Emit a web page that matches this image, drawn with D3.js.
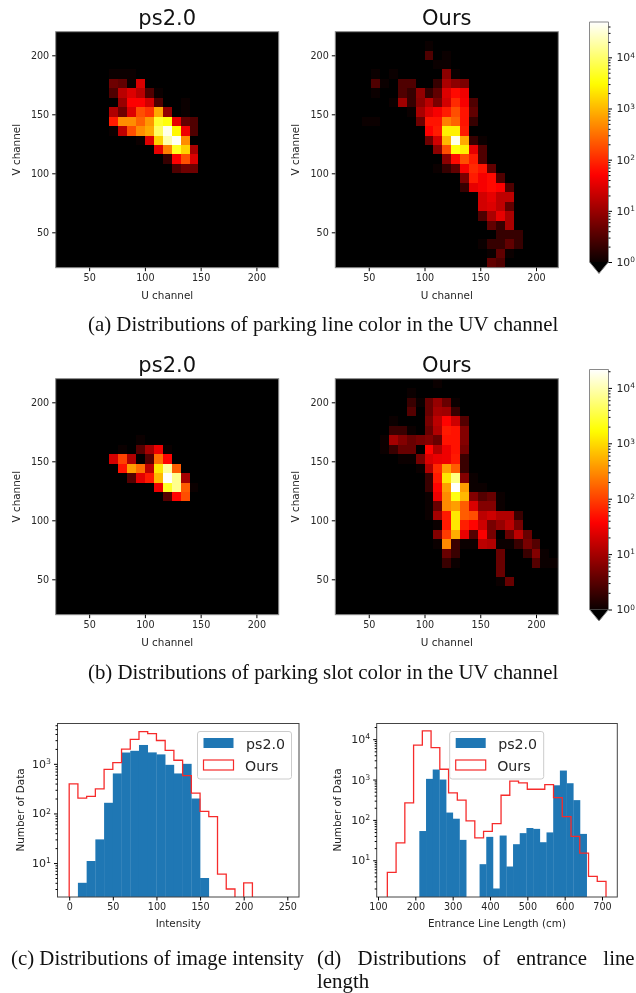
<!DOCTYPE html>
<html lang="en">
<head>
<meta charset="UTF-8">
<title>UV, intensity and entrance line distributions</title>
<style>
  html, body { margin: 0; padding: 0; background: #fff; overflow: hidden; }
  svg { display: block; filter: blur(0.35px); }
  text { font-family: "DejaVu Sans", sans-serif; fill: #262626; }
  .tick text { font-size: 9.6px; }
  .axis-label { font-size: 10.4px; }
  .title { font-size: 21px; fill: #111; }
  .legend-text { font-size: 14.2px; }
  .caption { font-family: "Liberation Serif", serif; font-size: 20.85px; fill: #111; }
</style>
</head>
<body>
<script src="https://d3js.org/d3.v7.min.js"></script>
<script>
// heatmap rows: [lower V edge of the bin, lower U edge of the first cell, counts per 8-wide cell]
var lineBaseRows = [
  [180, 68, [1, 1, 1]],
  [172, 68, [5, 4, 1, 28]],
  [164, 68, [3, 17, 30, 17, 3, 1]],
  [156, 76, [10, 50, 50, 25, 3, 0, 0, 1]],
  [148, 68, [14, 5, 30, 180, 120, 800, 9, 0, 1]],
  [140, 68, [80, 500, 500, 250, 600, 5000, 3500, 35, 4, 3]],
  [132, 68, [1, 18, 180, 500, 800, 9000, 40000, 2800, 40, 3]],
  [124, 92, [1, 30, 1500, 20000, 45000, 500]],
  [116, 108, [35, 400, 4500, 1500, 13]],
  [108, 116, [2, 50, 180, 30]],
  [100, 124, [3, 5, 5]]
];
var lineOursRows = [
  [204, 100, [1]],
  [196, 100, [3, 0, 1]],
  [188, 108, [1, 1]],
  [180, 52, [1, 0, 1, 0, 0, 0, 0, 0, 8, 1]],
  [172, 52, [3, 1, 0, 3, 3, 0, 0, 2, 13, 8, 6]],
  [164, 52, [1, 0, 0, 3, 2, 9, 2, 4, 30, 60, 40]],
  [156, 68, [1, 11, 2, 8, 17, 6, 25, 100, 45, 3]],
  [148, 84, [1, 13, 30, 45, 80, 180, 70, 4]],
  [140, 44, [1, 1, 0, 0, 0, 0, 5, 70, 70, 400, 250, 70, 2]],
  [132, 100, [50, 80, 2500, 2500, 80]],
  [124, 100, [5, 25, 1000, 40000, 800, 2, 1]],
  [116, 108, [8, 180, 3500, 2500, 35, 3]],
  [108, 116, [8, 60, 180, 80, 3]],
  [100, 108, [1, 2, 4, 45, 100, 70, 4]],
  [92, 132, [6, 80, 45, 60, 3]],
  [84, 132, [2, 35, 45, 60, 50, 3]],
  [76, 148, [25, 35, 18, 18]],
  [68, 148, [25, 30, 18, 4]],
  [60, 148, [3, 13, 35, 13]],
  [52, 156, [4, 2, 13]],
  [44, 164, [2, 2, 2]],
  [36, 148, [1, 2, 2, 4, 2]],
  [28, 156, [1, 4, 1]],
  [20, 156, [4, 3]]
];
var slotBaseRows = [
  [164, 92, [1]],
  [156, 76, [1, 0, 3, 10, 30, 1]],
  [148, 68, [20, 100, 12, 0, 3, 200, 40]],
  [140, 76, [50, 400, 200, 14, 1200, 8000, 150]],
  [132, 84, [3, 25, 55, 600, 21000, 7000, 10]],
  [124, 108, [30, 2500, 7000, 150, 1]],
  [116, 116, [3, 40, 120]]
];
var slotOursRows = [
  [212, 108, [1]],
  [204, 84, [1]],
  [196, 84, [2, 1, 4, 8, 4, 1]],
  [188, 84, [3, 0, 4, 10, 9, 2]],
  [180, 68, [1, 0, 0, 0, 5, 14, 40, 18, 3]],
  [172, 68, [2, 2, 1, 0, 4, 12, 55, 50, 6]],
  [164, 60, [1, 10, 6, 4, 5, 6, 4, 50, 50, 6]],
  [156, 60, [1, 2, 4, 4, 0, 40, 12, 30, 50, 5]],
  [148, 76, [1, 1, 5, 22, 28, 30, 55, 2]],
  [140, 92, [1, 12, 70, 400, 150, 2]],
  [132, 100, [2, 55, 1200, 6000, 6, 1]],
  [124, 100, [2, 40, 400, 21000, 400, 1, 1]],
  [116, 100, [1, 30, 300, 2000, 600, 6, 3, 4, 1]],
  [108, 100, [1, 4, 300, 400, 150, 22, 6, 6, 1]],
  [100, 100, [1, 10, 55, 1200, 150, 120, 14, 18, 12, 12, 2]],
  [92, 108, [1, 55, 1200, 60, 40, 18, 5, 8, 14, 5]],
  [84, 108, [6, 90, 500, 28, 3, 35, 5, 0, 4, 14, 4]],
  [76, 108, [1, 300, 2, 1, 1, 14, 12, 1, 1, 2, 5, 3]],
  [68, 116, [4, 2, 0, 0, 0, 0, 4, 0, 0, 2, 6, 1]],
  [60, 116, [2, 1, 0, 0, 0, 0, 4, 0, 0, 0, 3, 1, 1]],
  [52, 164, [4]],
  [44, 164, [1, 4]]
];
var heatTicks = [50, 100, 150, 200];

var lineVmax = 49000, slotVmax = 21500;

// histogram (c): 10-wide bins from 0
var intensityBase = [0, 4, 11, 30, 164, 640, 1690, 1830, 2400, 1700, 1550, 955, 640, 1000, 200, 5];
var intensityOurs = [395, 203, 220, 314, 770, 1060, 1970, 3100, 4470, 4080, 2950, 1860, 1180, 580, 258, 110, 86, 6, 3, 0, 4, 0, 0, 0, 0];
var intensityTicks = [0, 50, 100, 150, 200, 250];

// histogram (d)
var lengthBase = [53, 1040, 1770, 1000, 152, 107, 32, 0, 0, 8, 38, 2, 41, 7, 25, 47, 63, 60, 28, 49, 720, 1670, 810, 309, 45];
var lengthOurs = [5, 27, 265, 7100, 16100, 6200, 1800, 468, 308, 95, 36, 52, 81, 408, 910, 830, 575, 575, 750, 355, 120, 39, 15, 4, 3];
var lengthTicks = [100, 200, 300, 400, 500, 600, 700];

var svg = d3.select("body").append("svg").attr("width", 636).attr("height", 993);
var defs = svg.append("defs");

// matplotlib "hot"
function hot(t) {
  t = Math.max(0, Math.min(1, t));
  var r = Math.min(1, 0.0416 + 0.9584 * t / 0.365);
  var g = Math.max(0, Math.min(1, (t - 0.365) / 0.381));
  var b = Math.max(0, (t - 0.746) / 0.254);
  return d3.rgb(r * 255, g * 255, b * 255).formatHex();
}

function superTicks(axisG, size) {
  axisG.selectAll(".tick text").each(function(d) {
    var k = Math.round(Math.log10(d));
    var t = d3.select(this).text("10");
    t.append("tspan").attr("dy", "-0.5em").style("font-size", size + "px").text(k);
  });
}

function heatPanel(left, top, rows, title, vmax) {
  var w = 223, h = 236;
  var x = d3.scaleLinear().domain([20, 220]).range([left, left + w]);
  var y = d3.scaleLinear().domain([20, 220]).range([top + h, top]);
  var norm = d3.scaleLog().domain([1, vmax]).range([0, 1]);

  svg.append("rect").attr("x", left).attr("y", top).attr("width", w).attr("height", h).attr("fill", "#000");

  var cells = [];
  rows.forEach(function(r) {
    r[2].forEach(function(c, i) {
      if (c > 0) cells.push({v: r[0], u: r[1] + i * 8, c: c});
    });
  });

  svg.append("g").attr("shape-rendering", "crispEdges")
    .selectAll("rect").data(cells).enter().append("rect")
    .attr("x", function(d) { return x(d.u); })
    .attr("y", function(d) { return y(d.v + 8); })
    .attr("width", function(d) { return x(d.u + 8) - x(d.u); })
    .attr("height", function(d) { return y(d.v) - y(d.v + 8); })
    .attr("fill", function(d) { return hot(norm(d.c)); });

  svg.append("rect").attr("x", left).attr("y", top).attr("width", w).attr("height", h)
    .attr("fill", "none").attr("stroke", "#8a8a8a").attr("stroke-width", 1);

  var gx = svg.append("g").attr("transform", "translate(0," + (top + h) + ")")
    .call(d3.axisBottom(x).tickValues(heatTicks).tickSize(3.5).tickPadding(3));
  var gy = svg.append("g").attr("transform", "translate(" + left + ",0)")
    .call(d3.axisLeft(y).tickValues(heatTicks).tickSize(3.5).tickPadding(3));
  gx.select(".domain").remove();
  gy.select(".domain").remove();

  svg.append("text").attr("class", "title").attr("text-anchor", "middle")
    .attr("x", left + w / 2).attr("y", top - 7).text(title);
  svg.append("text").attr("class", "axis-label").attr("text-anchor", "middle")
    .attr("x", left + w / 2).attr("y", top + h + 31).text("U channel");
  svg.append("text").attr("class", "axis-label").attr("text-anchor", "middle")
    .attr("transform", "translate(" + (left - 36) + "," + (top + h / 2) + ") rotate(-90)")
    .text("V channel");
}

function colorbar(id, top, bottom, tipY, vmax) {
  var left = 589.5, w = 19;
  var y = d3.scaleLog().domain([1, vmax]).range([bottom, top]);

  var grad = defs.append("linearGradient").attr("id", id)
    .attr("x1", 0).attr("y1", 1).attr("x2", 0).attr("y2", 0);
  grad.selectAll("stop").data(d3.range(0, 1.001, 0.02)).enter().append("stop")
    .attr("offset", function(d) { return d; })
    .attr("stop-color", function(d) { return hot(d); });

  svg.append("rect").attr("x", left).attr("y", top).attr("width", w).attr("height", bottom - top)
    .attr("fill", "url(#" + id + ")");
  svg.append("path")
    .attr("d", d3.line()([[left, bottom], [left + w / 2, tipY], [left + w, bottom]]))
    .attr("fill", "#000");
  svg.append("path")
    .attr("d", d3.line()([[left, bottom], [left, top], [left + w, top], [left + w, bottom], [left + w / 2, tipY], [left, bottom]]))
    .attr("fill", "none").attr("stroke", "#8a8a8a").attr("stroke-width", 1);

  var minor = y.ticks().filter(function(d) { return !Number.isInteger(Math.log10(d)); });
  var major = y.ticks().filter(function(d) { return Number.isInteger(Math.log10(d)); });
  svg.append("g").attr("transform", "translate(" + (left + w) + ",0)")
    .call(d3.axisRight(y).tickValues(minor).tickSize(2).tickFormat(""))
    .select(".domain").remove();
  var g = svg.append("g").attr("transform", "translate(" + (left + w) + ",0)")
    .call(d3.axisRight(y).tickValues(major).tickSize(3.5).tickPadding(4.5).tickFormat(d3.format("d")));
  g.select(".domain").remove();
  g.selectAll(".tick text").style("font-size", "10.8px");
  superTicks(g, 7.4);
}

function histPanel(opts) {
  var x = d3.scaleLinear().domain(opts.xDomain).range([opts.left, opts.right]);
  var y = d3.scaleLog().domain(opts.yDomain).range([897, 723.5]);
  var clipId = opts.id + "-clip";

  defs.append("clipPath").attr("id", clipId).append("rect")
    .attr("x", opts.left).attr("y", 723.5)
    .attr("width", opts.right - opts.left).attr("height", 897 - 723.5);

  var plot = svg.append("g").attr("clip-path", "url(#" + clipId + ")");

  var bars = opts.base.map(function(c, i) { return {c: c, i: i}; })
    .filter(function(d) { return d.c > 0; });
  plot.selectAll("rect").data(bars).enter().append("rect")
    .attr("x", function(d) { return x(opts.baseStart + d.i * opts.baseWidth); })
    .attr("y", function(d) { return y(d.c); })
    .attr("width", x(opts.baseWidth) - x(0) + 0.3)
    .attr("height", function(d) { return 897 - y(d.c); })
    .attr("fill", "#1f77b4");

  // red outline of the second histogram, zero bins fall below the axis and get clipped
  var pts = [[opts.oursStart, 0.5]];
  opts.ours.forEach(function(c, i) {
    var v = c > 0 ? c : 0.5;
    pts.push([opts.oursStart + i * opts.oursWidth, v]);
    pts.push([opts.oursStart + (i + 1) * opts.oursWidth, v]);
  });
  pts.push([opts.oursStart + opts.ours.length * opts.oursWidth, 0.5]);
  plot.append("path")
    .attr("d", d3.line().x(function(d) { return x(d[0]); }).y(function(d) { return y(d[1]); })(pts))
    .attr("fill", "none").attr("stroke", "#f62b2b").attr("stroke-width", 1.3);

  svg.append("rect").attr("x", opts.left).attr("y", 723.5)
    .attr("width", opts.right - opts.left).attr("height", 897 - 723.5)
    .attr("fill", "none").attr("stroke", "#444").attr("stroke-width", 1);

  var gx = svg.append("g").attr("transform", "translate(0,897)")
    .call(d3.axisBottom(x).tickValues(opts.xTicks).tickSize(3.5).tickPadding(3));
  gx.select(".domain").remove();

  var all = y.ticks();
  var major = all.filter(function(d) { return Number.isInteger(Math.log10(d)) && d >= 10; });
  var minor = all.filter(function(d) { return !Number.isInteger(Math.log10(d)); });
  svg.append("g").attr("transform", "translate(" + opts.left + ",0)")
    .call(d3.axisLeft(y).tickValues(minor).tickSize(2).tickFormat(""))
    .select(".domain").remove();
  var gy = svg.append("g").attr("transform", "translate(" + opts.left + ",0)")
    .call(d3.axisLeft(y).tickValues(major).tickSize(3.5).tickPadding(3).tickFormat(d3.format("d")));
  gy.select(".domain").remove();
  gy.selectAll(".tick text").style("font-size", "11px");
  superTicks(gy, 7.8);

  svg.append("text").attr("class", "axis-label").attr("text-anchor", "middle")
    .attr("x", (opts.left + opts.right) / 2 + opts.labelShift).attr("y", 927).text(opts.xLabel);
  svg.append("text").attr("class", "axis-label").attr("text-anchor", "middle")
    .attr("transform", "translate(" + opts.yLabelX + ",810) rotate(-90)")
    .text("Number of Data");

  // legend
  var lx = opts.legendX;
  svg.append("rect").attr("x", lx).attr("y", 731.5).attr("width", 94).attr("height", 47.5).attr("rx", 2.5)
    .attr("fill", "#fff").attr("fill-opacity", 0.8).attr("stroke", "#ccc").attr("stroke-width", 1);
  svg.append("rect").attr("x", lx + 6).attr("y", 738).attr("width", 30).attr("height", 10).attr("fill", "#1f77b4");
  svg.append("rect").attr("x", lx + 6).attr("y", 760).attr("width", 30).attr("height", 10)
    .attr("fill", "none").attr("stroke", "#f62b2b").attr("stroke-width", 1.2);
  svg.append("text").attr("class", "legend-text").attr("x", lx + 48.5).attr("y", 748.5).text("ps2.0");
  svg.append("text").attr("class", "legend-text").attr("x", lx + 47.5).attr("y", 770.5).text("Ours");
}

heatPanel(55.7, 31.7, lineBaseRows, "ps2.0", lineVmax);
heatPanel(335.3, 31.7, lineOursRows, "Ours", lineVmax);
colorbar("cbar-line", 22, 262, 273.5, lineVmax);

heatPanel(55.7, 378.7, slotBaseRows, "ps2.0", slotVmax);
heatPanel(335.3, 378.7, slotOursRows, "Ours", slotVmax);
colorbar("cbar-slot", 369.5, 609.5, 621, slotVmax);

histPanel({
  id: "intensity", left: 57.5, right: 299,
  xDomain: [-13.4, 263.4], yDomain: [2.07, 6500], xTicks: intensityTicks,
  base: intensityBase, baseStart: 0, baseWidth: 10,
  ours: intensityOurs, oursStart: 0, oursWidth: 10,
  xLabel: "Intensity", labelShift: 0, yLabelX: 24, legendX: 197.5
});
histPanel({
  id: "length", left: 376.7, right: 617.3,
  xDomain: [96.5, 741], yDomain: [1.23, 24460], xTicks: lengthTicks,
  base: lengthBase, baseStart: 210.7, baseWidth: 17.93,
  ours: lengthOurs, oursStart: 125, oursWidth: 23.43,
  xLabel: "Entrance Line Length (cm)", labelShift: 0, yLabelX: 341, legendX: 449.7
});

function caption(x, y, str, spacing) {
  svg.append("text").attr("class", "caption").attr("x", x).attr("y", y)
    .style("word-spacing", spacing ? spacing + "px" : null).text(str);
}
caption(88, 331, "(a) Distributions of parking line color in the UV channel");
caption(88, 679, "(b) Distributions of parking slot color in the UV channel");
caption(11, 965.2, "(c) Distributions of image intensity");
caption(317, 965.2, "(d) Distributions of entrance line", 11.1);
caption(317, 988.4, "length");
</script>
</body>
</html>
